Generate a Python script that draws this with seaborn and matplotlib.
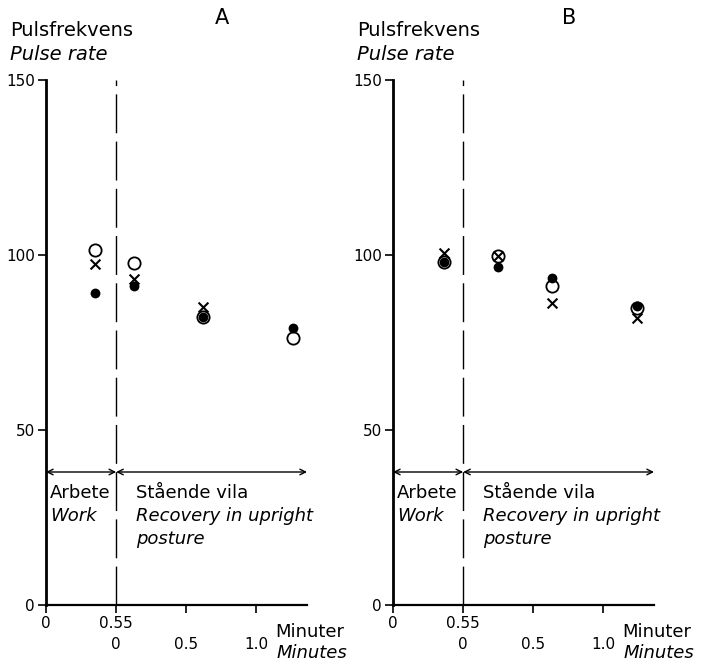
import numpy as np
import pandas as pd
import matplotlib
matplotlib.use("Agg")
import matplotlib.pyplot as plt
import seaborn as sns

# ---- data ----
panels = ["A", "B"]
time_A = [-0.15, 0.13, 0.62, 1.26]
open_A = [101.4, 97.7, 82.3, 76.3]
cross_A = [97.4, 93.0, 85.0, np.nan]
filled_A = [89.0, 91.0, 82.3, 79.0]

time_B = [-0.14, 0.25, 0.63, 1.24]
open_B = [98.0, 99.7, 91.0, 84.8]
cross_B = [100.5, 99.7, 86.3, 82.0]
filled_B = [98.0, 96.6, 93.4, 85.4]

y_ticks = [0, 50, 100, 150]
x_ticks = [-0.5, 0.0, 0.5, 1.0]
x_tick_labels = ["0", "0.55\n0", "\n0.5", "\n1.0"]

sns.set_style("ticks")
plt.rcParams["font.family"] = ["DejaVu Sans"]
plt.rcParams["text.color"] = "black"
plt.rcParams["axes.labelcolor"] = "black"
plt.rcParams["xtick.color"] = "black"
plt.rcParams["ytick.color"] = "black"

fig = plt.figure(figsize=(7.05, 6.67), dpi=100)

def make_df(t, o, c, f):
    rows = []
    for kind, vals in (("open", o), ("cross", c), ("filled", f)):
        for ti, v in zip(t, vals):
            rows.append({"time": ti, "value": v, "kind": kind})
    return pd.DataFrame(rows).dropna()

data = {
    "A": make_df(time_A, open_A, cross_A, filled_A),
    "B": make_df(time_B, open_B, cross_B, filled_B),
}
lefts = {"A": 46 / 705, "B": 393 / 705}
xmax = 1.36

for p in panels:
    ax = fig.add_axes([lefts[p], 62 / 667, 261 / 705, 525 / 667])
    df = data[p]
    sns.scatterplot(data=df[df.kind == "open"], x="time", y="value", ax=ax,
                    marker="o", s=78, facecolor="white", edgecolor="black",
                    linewidth=1.3, clip_on=False, zorder=3, legend=False)
    sns.scatterplot(data=df[df.kind == "filled"], x="time", y="value", ax=ax,
                    marker="o", s=50, color="black", edgecolor="black",
                    linewidth=0, clip_on=False, zorder=4, legend=False)
    sns.scatterplot(data=df[df.kind == "cross"], x="time", y="value", ax=ax,
                    marker="x", s=50, color="black", linewidth=1.5,
                    clip_on=False, zorder=5, legend=False)

    ax.set_xlim(-0.5, xmax)
    ax.set_ylim(0, 150)
    sns.despine(ax=ax)
    ax.spines["left"].set_linewidth(2.0)
    ax.spines["bottom"].set_linewidth(1.6)
    ax.spines["left"].set_color("black")
    ax.spines["bottom"].set_color("black")

    ax.set_yticks(y_ticks)
    ax.set_yticklabels([str(v) for v in y_ticks], fontsize=11)
    ax.set_xticks(x_ticks)
    ax.set_xticklabels(x_tick_labels, fontsize=11, linespacing=1.5)
    ax.tick_params(axis="both", direction="out", length=6, width=1.2,
                   colors="black", pad=2)
    ax.set_xlabel("")
    ax.set_ylabel("")

    # dashed separator between work and recovery
    ax.plot([0, 0], [0, 150], color="black", lw=1.0,
            linestyle=(0, (28, 6)), clip_on=False, zorder=1)

    # double arrows
    ax.annotate("", xy=(-0.5, 38), xytext=(0, 38),
                arrowprops=dict(arrowstyle="<->", lw=1.0, color="black",
                                shrinkA=0, shrinkB=0))
    ax.annotate("", xy=(0, 38), xytext=(xmax, 38),
                arrowprops=dict(arrowstyle="<->", lw=1.0, color="black",
                                shrinkA=0, shrinkB=0))

    ax.text(-0.47, 32, "Arbete", fontsize=13, va="center", ha="left")
    ax.text(-0.47, 25.5, "Work", fontsize=13, va="center", ha="left",
            style="italic")
    ax.text(0.14, 32, "Stående vila", fontsize=13, va="center", ha="left")
    ax.text(0.14, 25.5, "Recovery in upright", fontsize=13, va="center",
            ha="left", style="italic")
    ax.text(0.14, 19, "posture", fontsize=13, va="center", ha="left",
            style="italic")

# figure-level labels
for p, x0 in (("A", 0.0), ("B", 347.0)):
    fig.text((10 + x0) / 705, 1 - 30 / 667, "Pulsfrekvens", fontsize=14,
             va="center", ha="left")
    fig.text((10 + x0) / 705, 1 - 55 / 667, "Pulse rate", fontsize=14,
             va="center", ha="left", style="italic")
    fig.text((222 + x0) / 705, 1 - 18 / 667, p, fontsize=15,
             va="center", ha="center")
    fig.text((275 + x0) / 705, 1 - 632 / 667, "Minuter", fontsize=13,
             va="center", ha="left")
    fig.text((277 + x0) / 705, 1 - 653 / 667, "Minutes", fontsize=13,
             va="center", ha="left", style="italic")

fig.savefig("out.png", dpi=100)
